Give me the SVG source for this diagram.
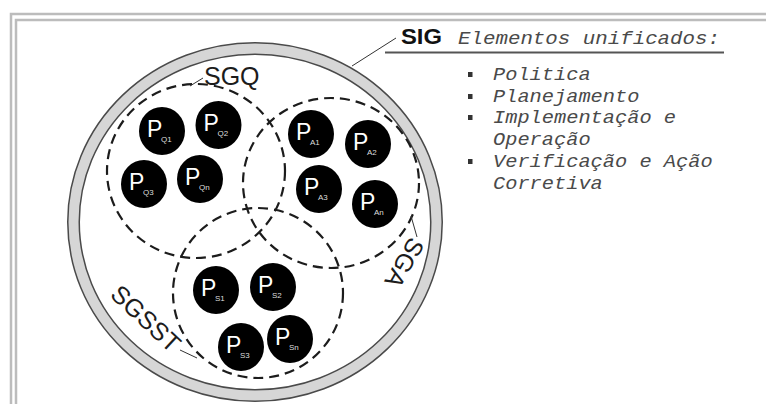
<svg xmlns="http://www.w3.org/2000/svg" width="766" height="404" viewBox="0 0 766 404">
<style>
.frame{fill:none;stroke:#bcbcbc;stroke-width:2.5}
.ringd{fill:none;stroke:#4a4a4a;stroke-width:13}
.ringl{fill:none;stroke:#d6d6d6;stroke-width:10}
.dash{fill:none;stroke:#1c1c1c;stroke-width:2.2;stroke-dasharray:10 6}
.lbl{font-family:"Liberation Sans",Arial,sans-serif;font-size:25px;fill:#1c1c1c}
.node{fill:#000}
.p{font-family:"Liberation Sans",Arial,sans-serif;font-size:23px;fill:#fff}
.sub{font-family:"Liberation Sans",Arial,sans-serif;font-size:8px;fill:#ddd}
.lead{fill:none;stroke:#333;stroke-width:1}
.mono{font-family:"Liberation Mono","Courier New",monospace;font-style:italic;font-size:19px;fill:#4a4a4a}
.bul{fill:#333}
</style>
<rect width="766" height="404" fill="#fff"/>
<path class="frame" d="M11,404 V14 H766"/>
<path class="frame" d="M16,404 V20 H766"/>

<g id="SIG">
  <ellipse class="ringd" cx="255" cy="222" rx="181.5" ry="173.5"/>
  <ellipse class="ringl" cx="255" cy="222" rx="181.5" ry="173.5"/>
  <text x="401" y="43.5" font-family="'Liberation Sans',Arial,sans-serif" font-weight="bold" font-size="22" fill="#111" textLength="41" lengthAdjust="spacingAndGlyphs">SIG</text>
</g>

<g id="SGQ">
  <ellipse class="dash" cx="196" cy="171" rx="89" ry="87"/>
  <text class="lbl" x="204" y="85">SGQ</text>
</g>
<g id="SGA">
  <ellipse class="dash" cx="331" cy="183" rx="88" ry="85"/>
  <text class="lbl" text-anchor="middle" transform="translate(397,258.5) rotate(120)">SGA</text>
</g>
<g id="SGSST">
  <ellipse class="dash" cx="258" cy="293" rx="85" ry="85"/>
  <text class="lbl" text-anchor="middle" transform="translate(140,325) rotate(43)">SGSST</text>
</g>

<g id="connectors">
  <line class="lead" x1="396" y1="38" x2="352" y2="66"/>
  <line x1="385" y1="52.5" x2="724" y2="52.5" stroke="#555" stroke-width="2"/>
  <line class="lead" x1="190" y1="86" x2="203" y2="78"/>
  <line class="lead" x1="411" y1="216" x2="417" y2="237"/>
  <line class="lead" x1="180" y1="350" x2="197" y2="358"/>
</g>

<g id="PQ1"><ellipse class="node" cx="162" cy="131" rx="23" ry="24"/><text class="p" x="147" y="137">P</text><text class="sub" x="161" y="142">Q1</text></g>
<g id="PQ2"><ellipse class="node" cx="218.5" cy="125" rx="23" ry="24"/><text class="p" x="203.5" y="131">P</text><text class="sub" x="217.5" y="136">Q2</text></g>
<g id="PQ3"><ellipse class="node" cx="144" cy="184" rx="23" ry="24"/><text class="p" x="129" y="190">P</text><text class="sub" x="143" y="195">Q3</text></g>
<g id="PQn"><ellipse class="node" cx="200" cy="179" rx="23" ry="24"/><text class="p" x="185" y="185">P</text><text class="sub" x="199" y="190">Qn</text></g>

<g id="PA1"><ellipse class="node" cx="311" cy="134" rx="23" ry="24"/><text class="p" x="296" y="140">P</text><text class="sub" x="310" y="145">A1</text></g>
<g id="PA2"><ellipse class="node" cx="368" cy="144" rx="23" ry="24"/><text class="p" x="353" y="150">P</text><text class="sub" x="367" y="155">A2</text></g>
<g id="PA3"><ellipse class="node" cx="319" cy="189" rx="23" ry="24"/><text class="p" x="304" y="195">P</text><text class="sub" x="318" y="200">A3</text></g>
<g id="PAn"><ellipse class="node" cx="375" cy="204" rx="23" ry="24"/><text class="p" x="360" y="210">P</text><text class="sub" x="374" y="215">An</text></g>

<g id="PS1"><ellipse class="node" cx="216" cy="290" rx="23" ry="24"/><text class="p" x="201" y="296">P</text><text class="sub" x="215" y="301">S1</text></g>
<g id="PS2"><ellipse class="node" cx="273" cy="287" rx="23" ry="24"/><text class="p" x="258" y="293">P</text><text class="sub" x="272" y="298">S2</text></g>
<g id="PS3"><ellipse class="node" cx="241" cy="347" rx="23" ry="24"/><text class="p" x="226" y="353">P</text><text class="sub" x="240" y="358">S3</text></g>
<g id="PSn"><ellipse class="node" cx="290" cy="339" rx="23" ry="24"/><text class="p" x="275" y="345">P</text><text class="sub" x="289" y="350">Sn</text></g>

<g id="legend">
  <text class="mono" x="458" y="43.5" textLength="262" lengthAdjust="spacingAndGlyphs">Elementos unificados:</text>
  <rect class="bul" x="468" y="72" width="4.5" height="5"/>
  <rect class="bul" x="468" y="94" width="4.5" height="5"/>
  <rect class="bul" x="468" y="115" width="4.5" height="5"/>
  <rect class="bul" x="468" y="159" width="4.5" height="5"/>
  <text class="mono" x="493" y="80" textLength="97.6" lengthAdjust="spacingAndGlyphs">Politica</text>
  <text class="mono" x="493" y="102" textLength="146.4" lengthAdjust="spacingAndGlyphs">Planejamento</text>
  <text class="mono" x="493" y="123" textLength="183" lengthAdjust="spacingAndGlyphs">Implementação e</text>
  <text class="mono" x="493" y="145" textLength="97.6" lengthAdjust="spacingAndGlyphs">Operação</text>
  <text class="mono" x="493" y="167" textLength="219.6" lengthAdjust="spacingAndGlyphs">Verificação e Ação</text>
  <text class="mono" x="493" y="189" textLength="109.8" lengthAdjust="spacingAndGlyphs">Corretiva</text>
</g>
</svg>
